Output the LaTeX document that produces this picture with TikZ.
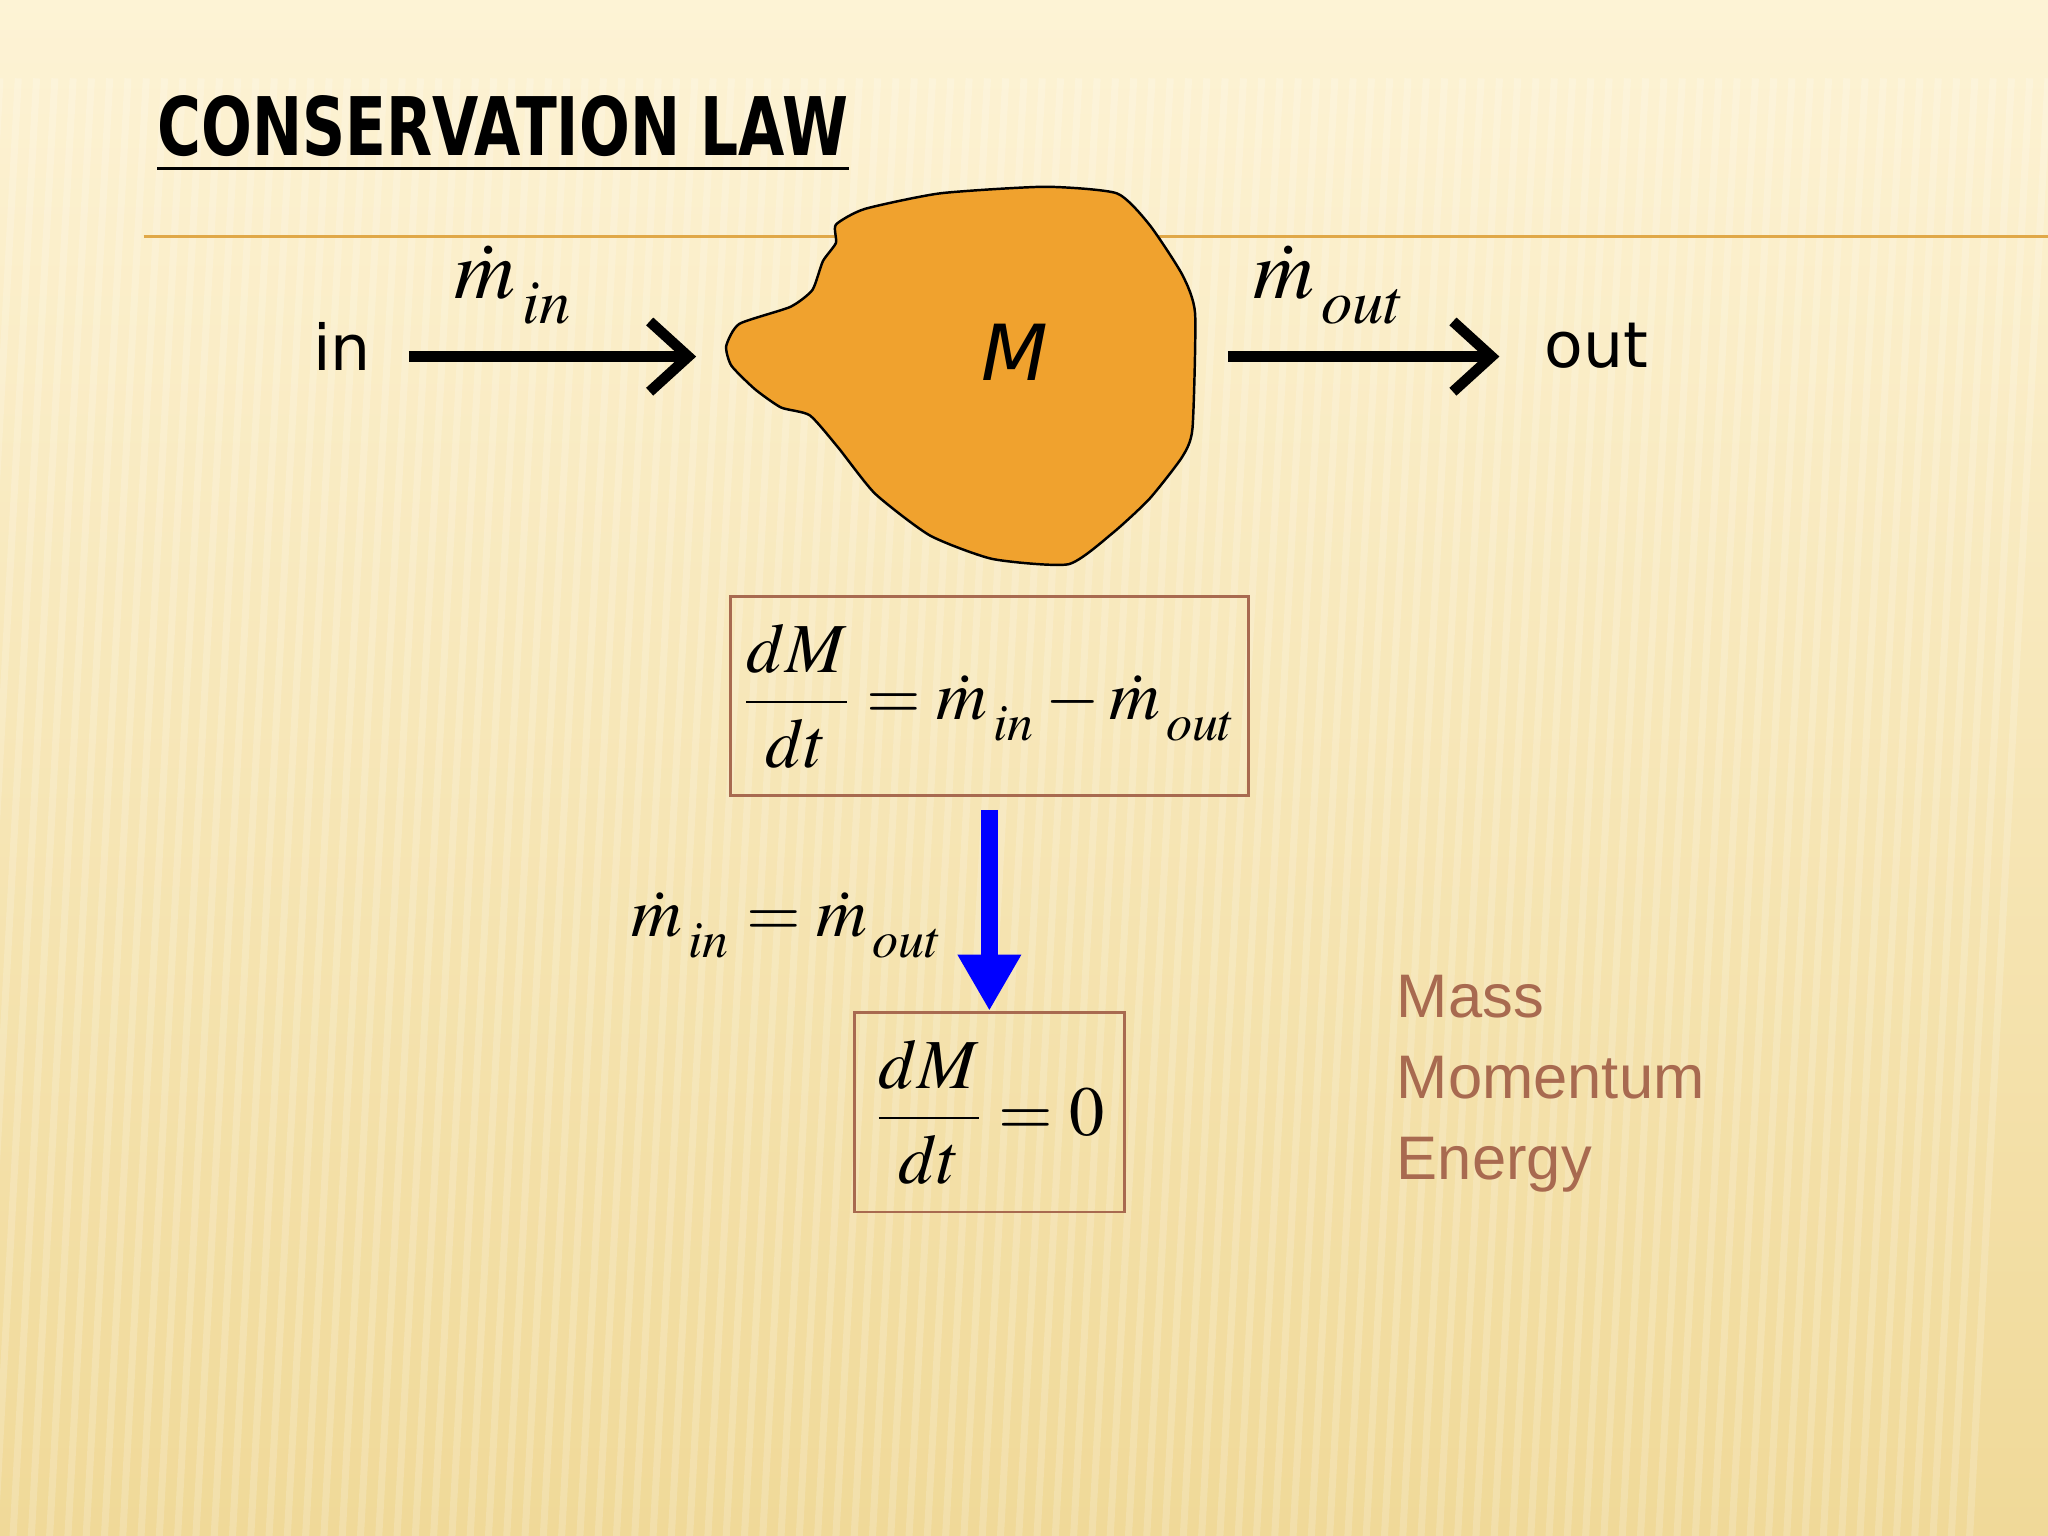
\documentclass[tikz,border=0pt]{standalone}
\usepackage{amsmath}
\usepackage{mathptmx}
\usepackage{fontspec}
\setsansfont{DejaVu Sans}
\newfontfamily\arialf{Liberation Sans}
\usetikzlibrary{arrows.meta}
\definecolor{bgtop}{HTML}{FDF3D5}
\definecolor{bgbot}{HTML}{F0D998}
\definecolor{blob}{HTML}{F0A22E}
\definecolor{boxc}{HTML}{A86A50}
\definecolor{rulec}{HTML}{E0A848}
\newcommand{\lowsub}[1]{_{\,\raisebox{-0.35ex}{$\scriptstyle #1$}}}
\tikzset{
  flow/.style={line width=3pt,-{Straight Barb[length=11pt,width=20pt,line width=3pt]}},
  eqbox/.style={draw=boxc,line width=0.8pt},
  lbl/.style={font=\sffamily\fontsize{18}{20}\selectfont},
  mdot/.style={font=\fontsize{24}{26}\selectfont},
  eqf/.style={font=\fontsize{20}{24}\selectfont},
  listf/.style={text=boxc,font=\arialf\fontsize{17.5}{23}\selectfont,anchor=north west,align=left}
}
\begin{document}
\begin{tikzpicture}[x=0.01306cm,y=-0.01306cm]
\useasboundingbox (0,0) rectangle (1568,1176);
\shade[top color=bgtop,bottom color=bgbot] (0,0) rectangle (1568,1176);
\foreach \i in {0,14,...,1568}{\draw[white,opacity=0.18,line width=2pt] (\i,60) -- (\i-60,1176);}
\draw[rulec,line width=1pt] (110,181) -- (1568,181);
\node[anchor=south west,inner sep=0pt,font=\sffamily\bfseries\fontsize{23}{26}\selectfont] (title) at (120,133) {\underline{\scalebox{0.74}[1]{CONSERVATION LAW}}};
\draw[fill=blob,line width=0.7pt] plot[smooth cycle,tension=0.35] coordinates {(640,172) (662,160) (720,148) (800,143) (855,148) (880,172) (905,210) (915,240) (913,328) (905,350) (880,382) (852,408) (818,432) (760,428) (712,410) (670,378) (642,343) (620,318) (598,312) (578,298) (560,280) (556,265) (566,248) (605,235) (622,222) (630,200) (640,186)};
\node[font=\sffamily\itshape\fontsize{22}{24}\selectfont] (M) at (777,270) {M};
\node[lbl] (in) at (262,265) {in};
\node[lbl] (out) at (1222,265) {out};
\coordinate (a1) at (313,273); \coordinate (a2) at (533,273);
\coordinate (b1) at (940,273); \coordinate (b2) at (1148,273);
\draw[flow] (a1) -- (a2);
\draw[flow] (b1) -- (b2);
\node[mdot] (min) at (393,218) {$\dot m\lowsub{in}$};
\node[mdot] (mout) at (1018,218) {$\dot m\lowsub{out}$};
\node[eqbox,minimum width=393*0.01306cm,minimum height=152*0.01306cm,eqf] (eq1) at (757.5,533) {$\dfrac{dM}{dt}=\dot m\lowsub{in}-\dot m\lowsub{out}$};
\node[eqbox,minimum width=207*0.01306cm,minimum height=153*0.01306cm,eqf] (eq2) at (757.5,851.5) {$\dfrac{dM}{dt}=0$};
\draw[blue,line width=5pt,-{Triangle[length=16pt,width=17pt]}] (eq1.south) ++(0,10) -- (eq2.north);
\node[eqf] (cond) at (603,708) {$\dot m\lowsub{in}=\dot m\lowsub{out}$};
\node[listf] (list) at (1060,737) {Mass\\Momentum\\Energy};
\end{tikzpicture}
\end{document}
